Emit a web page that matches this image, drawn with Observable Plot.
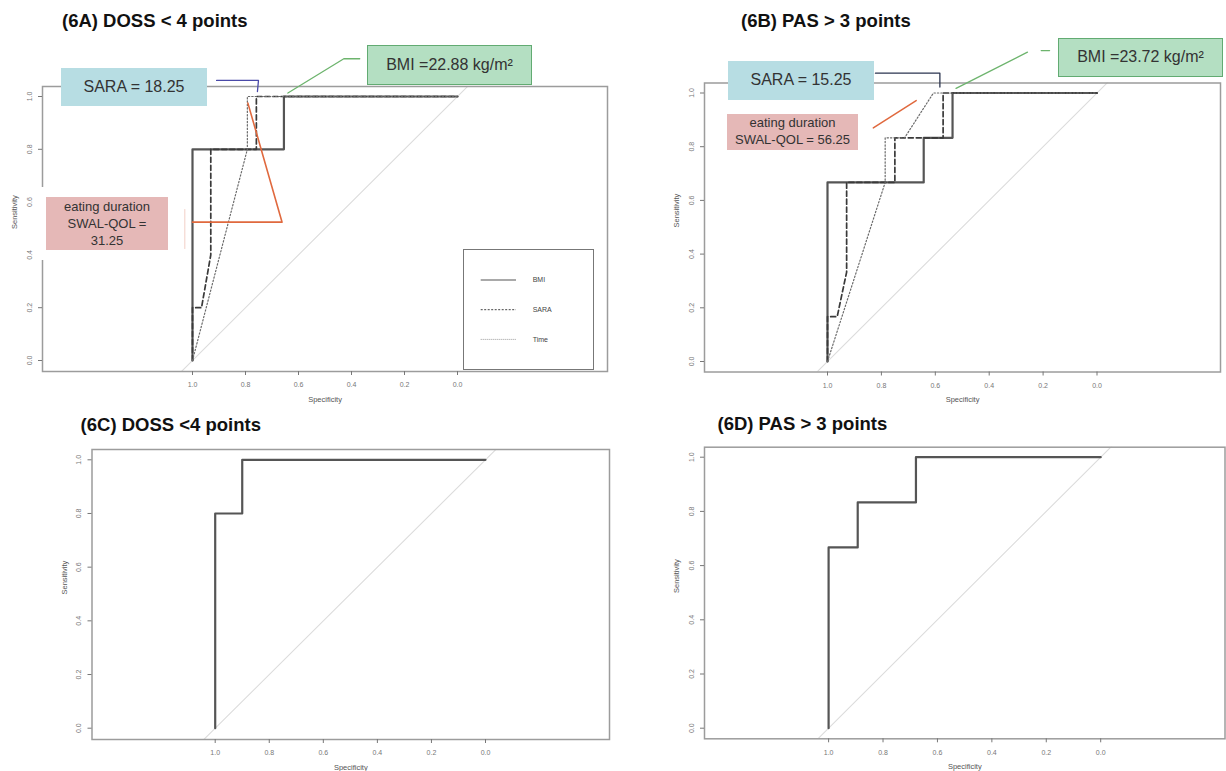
<!DOCTYPE html>
<html><head><meta charset="utf-8">
<script src="https://cdn.jsdelivr.net/npm/d3@7"></script>
<script src="https://cdn.jsdelivr.net/npm/@observablehq/plot@0.6"></script>
<style>
body{margin:0;background:#fff;font-family:"Liberation Sans",Arial,sans-serif;}
#root{position:relative;width:1226px;height:771px;overflow:hidden;background:#fff;}
.panel{position:absolute;}
.title{position:absolute;font-weight:bold;font-size:18.5px;line-height:18px;color:#111;white-space:nowrap;}
.note{position:absolute;display:flex;flex-direction:column;align-items:center;justify-content:center;text-align:center;color:#333;box-sizing:border-box;white-space:nowrap;}
</style></head><body><div id="root"></div>
<script>
// ---------------- data (specificity, sensitivity) ----------------
const xTicks = [1.0, 0.8, 0.6, 0.4, 0.2, 0.0];
const yTicks = [0.0, 0.2, 0.4, 0.6, 0.8, 1.0];
const legendNames = ["BMI", "SARA", "Time"];

// 6A  DOSS < 4 points
const rocA_BMI  = [[1,0],[1,0.8],[0.655,0.8],[0.655,1],[0,1]];
const rocA_SARA = [[1,0],[1,0.2],[0.966,0.2],[0.931,0.4],[0.931,0.8],[0.759,0.8],[0.759,1],[0,1]];
const rocA_Time = [[1,0],[0.793,0.8],[0.793,1],[0,1]];
// 6B  PAS > 3 points
const rocB_BMI  = [[1,0],[1,0.667],[0.643,0.667],[0.643,0.833],[0.536,0.833],[0.536,1],[0,1]];
const rocB_SARA = [[1,0],[1,0.167],[0.964,0.167],[0.929,0.333],[0.929,0.667],[0.75,0.667],[0.75,0.833],[0.571,0.833],[0.571,1],[0,1]];
const rocB_Time = [[1,0],[0.786,0.667],[0.786,0.833],[0.714,0.833],[0.607,1],[0,1]];
// 6C  DOSS <4 points
const rocC = [[1,0],[1,0.8],[0.9,0.8],[0.9,1],[0,1]];
// 6D  PAS > 3 points
const rocD = [[1,0],[1,0.667],[0.893,0.667],[0.893,0.833],[0.679,0.833],[0.679,1],[0,1]];

// annotation leader lines (in specificity / sensitivity units)
const leadA_SARA = [[0.909,1.061],[0.751,1.061],[0.755,1.019]];
const leadA_BMI  = [[0.369,1.143],[0.429,1.143],[0.640,1.013]];
const leadA_Eat  = [[1.0,0.524],[0.662,0.524],[0.791,0.975]];
const leadA_EatTick = [[1.029,0.572],[1.029,0.424]];
const leadB_SARA = [[0.822,1.074],[0.583,1.074],[0.583,1.022]];
const leadB_BMIdash = [[0.207,1.158],[0.176,1.158]];
const leadB_BMI  = [[0.258,1.152],[0.523,1.017]];
const leadB_Eat  = [[0.830,0.870],[0.671,0.972]];

// annotation labels
const noteA_SARA = ["SARA = 18.25"];
const noteA_BMI  = ["BMI =22.88 kg/m²"];
const noteA_Eat  = ["eating duration", "SWAL-QOL =", "31.25"];
const noteB_SARA = ["SARA = 15.25"];
const noteB_BMI  = ["BMI =23.72 kg/m²"];
const noteB_Eat  = ["eating duration", "SWAL-QOL = 56.25"];

const titles = ["(6A) DOSS < 4 points", "(6B) PAS > 3 points", "(6C) DOSS <4 points", "(6D) PAS > 3 points"];

// ---------------- drawing ----------------
const root = document.getElementById("root");
const fmt = d3.format(".1f");
const FONT = '"Liberation Sans", Arial, sans-serif';
const diag = [[1.3,-0.3],[-0.3,1.3]]; // abline(1,-1) reference, clipped to the plot region

const styleBMI  = {stroke:"#555", strokeWidth:2.2};
const styleSARA = {stroke:"#3a3a3a", strokeWidth:1.7, strokeDasharray:"5,3"};
const styleTime = {stroke:"#6a6a6a", strokeWidth:1.2, strokeDasharray:"1.4,2"};

function rocPanel(cfg) {
  const {left, top, width, height, frame, xr, yr, series, leads = []} = cfg;
  const marks = [
    Plot.line(diag, {x: d => d[0], y: d => d[1], stroke: "#dcdcdc", strokeWidth: 1.1, clip: true}),
    ...series.map(s => Plot.line(s.data, {x: d => d[0], y: d => d[1], ...s.style})),
    Plot.frame({stroke: "#9c9c9c", strokeWidth: 1.5}),
    Plot.axisX({ticks: xTicks, tickFormat: fmt, tickSize: 4, tickPadding: 7, fontSize: 7, label: null}),
    Plot.axisY({ticks: yTicks, tickFormat: fmt, tickSize: 4, tickPadding: 7, tickRotate: -90, fontSize: 7, label: null}),
    Plot.text(["Specificity"], {text: d => d, frameAnchor: "bottom", dy: 27.6, lineAnchor: "middle", fontSize: 7.5, fill: "#555"}),
    Plot.text(["Sensitivity"], {text: d => d, frameAnchor: "left", dx: -27.7, rotate: -90, lineAnchor: "middle", fontSize: 7.5, fill: "#555"}),
    ...leads.map(l => Plot.line(l.data, {x: d => d[0], y: d => d[1], stroke: l.stroke, strokeWidth: l.width || 1.3}))
  ];
  const chart = Plot.plot({
    width, height,
    marginLeft: frame[0] - left, marginTop: frame[1] - top,
    marginRight: left + width - frame[2], marginBottom: top + height - frame[3],
    x: {domain: [1, 0], range: [xr[0] - left, xr[1] - left]},
    y: {domain: [0, 1], range: [yr[0] - top, yr[1] - top]},
    style: {fontFamily: FONT, color: "#777", background: "transparent", overflow: "visible"},
    marks
  });
  const wrap = document.createElement("div");
  wrap.className = "panel";
  wrap.style.left = left + "px";
  wrap.style.top = top + "px";
  wrap.appendChild(chart);
  root.appendChild(wrap);
}

// Panel A
rocPanel({left: 0, top: 0, width: 620, height: 400, frame: [42, 86, 607, 371], xr: [192, 457], yr: [360, 96],
  series: [{data: rocA_BMI, style: styleBMI}, {data: rocA_SARA, style: styleSARA}, {data: rocA_Time, style: styleTime}],
  leads: [{data: leadA_SARA, stroke: "#4a4aa8"}, {data: leadA_BMI, stroke: "#6db46d"},
          {data: leadA_Eat, stroke: "#e0693e", width: 1.6}, {data: leadA_EatTick, stroke: "#f2cfc6", width: 1}]});
// Panel B
rocPanel({left: 610, top: 0, width: 616, height: 410, frame: [704, 82.5, 1220, 371.5], xr: [827, 1096.5], yr: [361, 92.5],
  series: [{data: rocB_BMI, style: styleBMI}, {data: rocB_SARA, style: styleSARA}, {data: rocB_Time, style: styleTime}],
  leads: [{data: leadB_SARA, stroke: "#2b3550"}, {data: leadB_BMIdash, stroke: "#6db46d"}, {data: leadB_BMI, stroke: "#6db46d"},
          {data: leadB_Eat, stroke: "#e0693e", width: 1.5}]});
// Panel C
rocPanel({left: 0, top: 400, width: 620, height: 371, frame: [91.5, 449, 609, 739], xr: [214.7, 485], yr: [727.7, 459.3],
  series: [{data: rocC, style: styleBMI}]});
// Panel D
rocPanel({left: 610, top: 400, width: 616, height: 371, frame: [704, 446.7, 1224.5, 738.3], xr: [828.1, 1100.2], yr: [727.7, 456.7],
  series: [{data: rocD, style: styleBMI}]});

// titles
[[62, 12], [741, 12], [80.6, 415.5], [717.5, 415.3]].forEach(([x, y], i) => {
  const t = document.createElement("div");
  t.className = "title";
  t.style.left = x + "px"; t.style.top = y + "px";
  t.textContent = titles[i];
  root.appendChild(t);
});

// white patch hiding the y-axis line behind the A annotation
const patch = document.createElement("div");
Object.assign(patch.style, {position: "absolute", left: "36px", top: "187px", width: "10px", height: "73px", background: "#fff"});
root.appendChild(patch);

// annotation boxes
function note(lines, x, y, w, h, bg, fontSize, lineHeight, border) {
  const n = document.createElement("div");
  n.className = "note";
  Object.assign(n.style, {left: x + "px", top: y + "px", width: w + "px", height: h + "px", background: bg,
    fontSize: fontSize + "px", lineHeight: lineHeight + "px", border: border || "none"});
  lines.forEach(s => { const d = document.createElement("div"); d.textContent = s; n.appendChild(d); });
  root.appendChild(n);
}
note(noteA_SARA, 61, 68, 146, 38, "#b7dde3", 16, 18);
note(noteA_BMI, 367, 45, 165, 39.5, "#b4dfc2", 16, 18, "1px solid #62ab72");
note(noteA_Eat, 46, 197, 122, 53, "#e5b8b7", 13, 17.3);
note(noteB_SARA, 728, 61, 146, 38.5, "#b7dde3", 16, 18);
note(noteB_BMI, 1058, 38, 165, 38.5, "#b4dfc2", 16, 18, "1px solid #62ab72");
note(noteB_Eat, 727, 114, 131, 36, "#e5b8b7", 13, 16.6);

// legend of panel A
const leg = document.createElement("div");
Object.assign(leg.style, {position: "absolute", left: "463px", top: "249px", width: "131px", height: "121px",
  border: "1px solid #777", background: "#fff", boxSizing: "border-box"});
root.appendChild(leg);
const lsvg = d3.select(leg).append("svg").attr("width", 129).attr("height", 119).style("display", "block");
const legStyles = [{stroke: "#555", dash: null, w: 1.1}, {stroke: "#444", dash: "2,1.5", w: 1}, {stroke: "#999", dash: "1,1", w: 1}];
legendNames.forEach((name, i) => {
  const yy = 30 + i * 29.7;
  lsvg.append("line").attr("x1", 16.7).attr("x2", 52).attr("y1", yy).attr("y2", yy)
    .attr("stroke", legStyles[i].stroke).attr("stroke-width", legStyles[i].w).attr("stroke-dasharray", legStyles[i].dash);
  lsvg.append("text").attr("x", 68.7).attr("y", yy).attr("dy", "0.35em").attr("font-size", 7)
    .attr("font-family", FONT).attr("fill", "#444").text(name);
});
</script></body></html>
